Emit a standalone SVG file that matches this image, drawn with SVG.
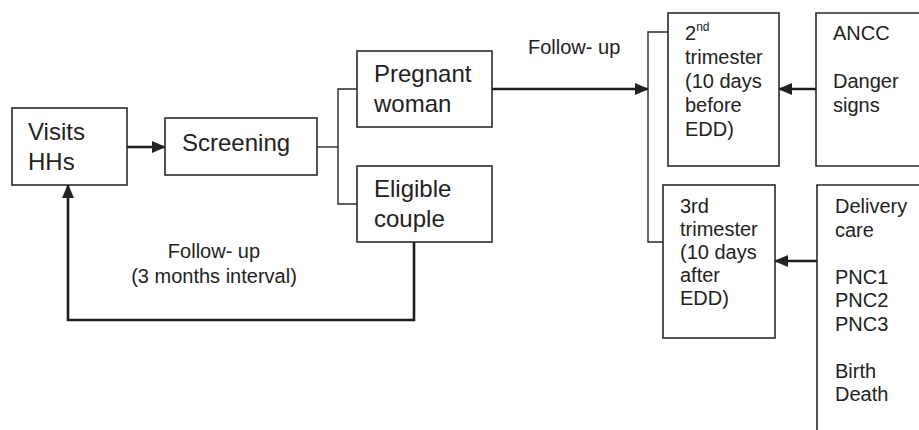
<svg xmlns="http://www.w3.org/2000/svg" width="919" height="430" viewBox="0 0 919 430">
<defs>
<marker id="ah" markerUnits="userSpaceOnUse" markerWidth="14" markerHeight="14" viewBox="0 0 14 14" refX="13" refY="7" orient="auto">
<path d="M0,1 L14,7 L0,13 Z" fill="#222"/>
</marker>
</defs>
<style>
.box{fill:#fff;stroke:#2a2a2a;stroke-width:1.6}
.t{font-family:"Liberation Sans",Arial,sans-serif;fill:#222}
.big{font-size:24px}
.sm{font-size:20px}
.thin{fill:none;stroke:#2a2a2a;stroke-width:1.4}
.thick{fill:none;stroke:#1e1e1e;stroke-width:2.6}
</style>
<rect width="919" height="430" fill="#fff"/>
<g id="connectors">
<line class="thick" x1="127" y1="147" x2="165" y2="147" marker-end="url(#ah)"/>
<polyline class="thin" points="317,147 338,147"/>
<polyline class="thin" points="357,89 338,89 338,204 357,204"/>
<line class="thick" x1="492" y1="89" x2="648" y2="89" marker-end="url(#ah)"/>
<polyline class="thin" points="668,32 648,32 648,242 663,242"/>
<line class="thick" x1="816" y1="89" x2="779" y2="89" marker-end="url(#ah)"/>
<line class="thick" x1="817" y1="261" x2="775" y2="261" marker-end="url(#ah)"/>
<polyline class="thick" points="414,242 414,320 68,320 68,185" marker-end="url(#ah)"/>
<text class="t sm" x="528" y="54">Follow- up</text>
<text class="t sm" x="214" y="258" text-anchor="middle">Follow- up</text>
<text class="t sm" x="214" y="283" text-anchor="middle">(3 months interval)</text>
</g>
<g id="visits">
<rect class="box" x="12" y="108" width="115" height="77"/>
<text class="t big" x="28" y="140">Visits</text>
<text class="t big" x="28" y="170">HHs</text>
</g>
<g id="screening">
<rect class="box" x="165" y="118" width="152" height="57"/>
<text class="t big" x="182" y="151">Screening</text>
</g>
<g id="pregnant">
<rect class="box" x="357" y="51" width="135" height="76"/>
<text class="t big" x="374" y="82">Pregnant</text>
<text class="t big" x="374" y="112">woman</text>
</g>
<g id="eligible">
<rect class="box" x="357" y="166" width="135" height="76"/>
<text class="t big" x="374" y="197">Eligible</text>
<text class="t big" x="374" y="227">couple</text>
</g>
<g id="second">
<rect class="box" x="668" y="13" width="111" height="153"/>
<text class="t sm" x="685" y="40">2<tspan font-size="12" dy="-9">nd</tspan></text>
<text class="t sm" x="685" y="64">trimester</text>
<text class="t sm" x="685" y="88">(10 days</text>
<text class="t sm" x="685" y="112">before</text>
<text class="t sm" x="685" y="136">EDD)</text>
</g>
<g id="ancc">
<path class="box" d="M921,13 L816,13 L816,166 L921,166"/>
<text class="t sm" x="833" y="40">ANCC</text>
<text class="t sm" x="833" y="88">Danger</text>
<text class="t sm" x="833" y="112">signs</text>
</g>
<g id="third">
<rect class="box" x="663" y="185" width="112" height="153"/>
<text class="t sm" x="680" y="213">3rd</text>
<text class="t sm" x="680" y="236">trimester</text>
<text class="t sm" x="680" y="259">(10 days</text>
<text class="t sm" x="680" y="282">after</text>
<text class="t sm" x="680" y="305">EDD)</text>
</g>
<g id="delivery">
<path class="box" d="M921,185 L817,185 L817,432"/>
<text class="t sm" x="835" y="213">Delivery</text>
<text class="t sm" x="835" y="236.5">care</text>
<text class="t sm" x="835" y="283.5">PNC1</text>
<text class="t sm" x="835" y="307">PNC2</text>
<text class="t sm" x="835" y="330.5">PNC3</text>
<text class="t sm" x="835" y="377.5">Birth</text>
<text class="t sm" x="835" y="401">Death</text>
</g>
</svg>
